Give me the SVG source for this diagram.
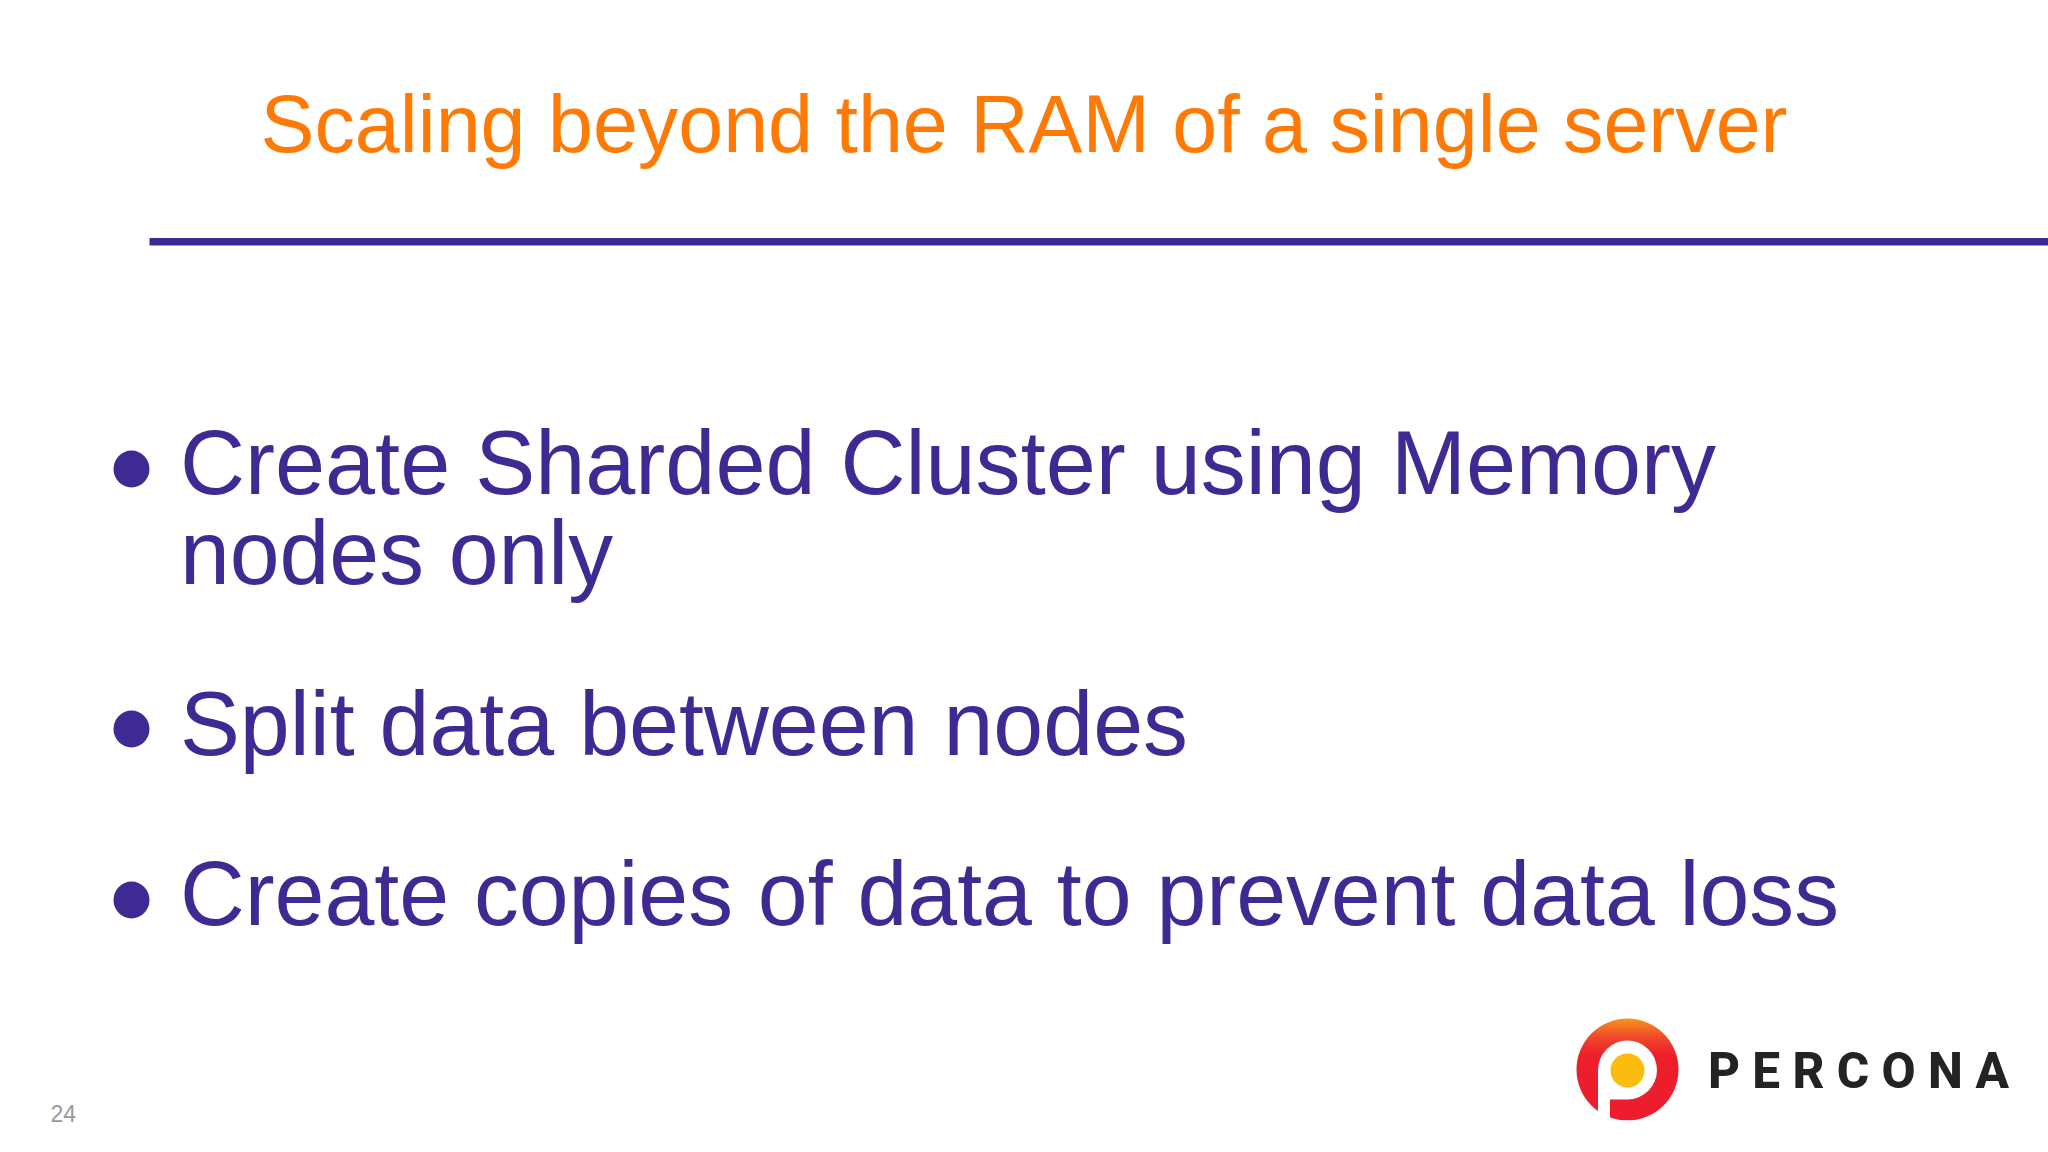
<svg xmlns="http://www.w3.org/2000/svg" width="2048" height="1152" viewBox="0 0 2048 1152">
<defs>
<linearGradient id="logoGrad" x1="0" y1="0" x2="0" y2="1"><stop offset="0" stop-color="#f7941d"/><stop offset="0.18" stop-color="#f0482a"/><stop offset="0.36" stop-color="#ed1f2b"/><stop offset="1" stop-color="#ed1c2e"/></linearGradient>
<clipPath id="logoClip"><rect x="1570" y="1010" width="120" height="110.500"/></clipPath>
</defs>
<style>
text{font-family:"Liberation Sans",Arial,sans-serif}
.t{fill:#ff7a05;font-size:82px}
.b{fill:#3f2a93;font-size:90px}
.d{fill:#3f2a93}
</style>
<rect width="2048" height="1152" fill="#ffffff"/>
<g id="title"><text class="t" x="260.500" y="152" textLength="1527" lengthAdjust="spacingAndGlyphs">Scaling beyond the RAM of a single server</text>
<rect x="149.500" y="238" width="1899" height="7.500" fill="#3f2a93"/></g>
<g id="bullet1"><ellipse class="d" cx="131.500" cy="469" rx="18" ry="18.500"/>
<text class="b" x="180" y="494" textLength="1536" lengthAdjust="spacingAndGlyphs">Create Sharded Cluster using Memory</text>
<text class="b" x="180" y="584" textLength="433" lengthAdjust="spacingAndGlyphs">nodes only</text></g>
<g id="bullet2"><ellipse class="d" cx="131.500" cy="729" rx="18" ry="18.500"/>
<text class="b" x="180" y="755" textLength="1008" lengthAdjust="spacingAndGlyphs">Split data between nodes</text></g>
<g id="bullet3"><ellipse class="d" cx="131.500" cy="900" rx="18" ry="18.500"/>
<text class="b" x="180" y="925" textLength="1659" lengthAdjust="spacingAndGlyphs">Create copies of data to prevent data loss</text></g>
<g id="page"><text x="50.500" y="1122" font-size="23" fill="#999999">24</text></g>
<g id="logo">
<g clip-path="url(#logoClip)">
<circle cx="1627.500" cy="1069.500" r="51" fill="url(#logoGrad)"/>
<path d="M1598 1125V1070A29.500 29.500 0 1 1 1627.500 1099.500H1610V1125Z" fill="#ffffff"/>
</g>
<circle cx="1627.500" cy="1070.500" r="17" fill="#fbbc0f"/>
<text x="1708" y="1088" font-size="49.500" font-weight="800" fill="#232326" style="font-family:Roboto,'Liberation Sans',sans-serif" textLength="301">PERCONA</text>
</g>
</svg>
